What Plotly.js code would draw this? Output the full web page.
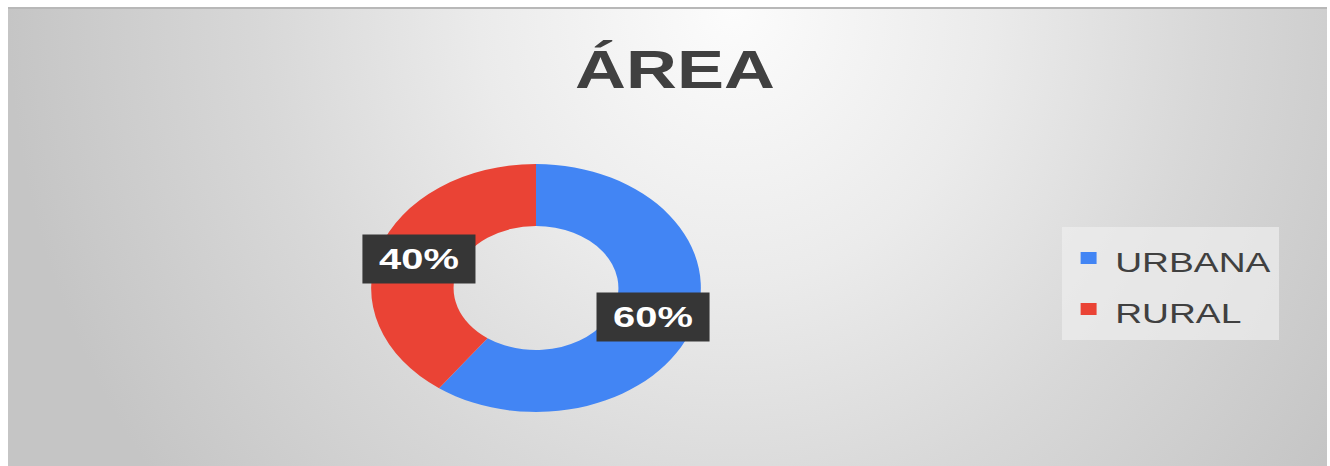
<!DOCTYPE html>
<html>
<head>
<meta charset="utf-8">
<script src="https://cdn.plot.ly/plotly-3.0.1.min.js"></script>
<style>
  html, body { margin: 0; padding: 0; width: 1330px; height: 466px; overflow: hidden; background: #ffffff; }
  #frame {
    position: absolute; left: 8px; top: 7px; width: 1319px; height: 459px;
    border-top: 2px solid #b8b8b8;
    box-sizing: border-box;
    background: radial-gradient(ellipse 55% 170% at 55% 0%, #fcfcfc 0%, #ebebeb 35%, #d8d8d8 65%, #c5c5c5 100%);
  }
  #chart {
    position: absolute; left: 0; top: 0; width: 1000px; height: 466px;
    transform: scaleX(1.33); transform-origin: 0 0;
  }
</style>
</head>
<body>
<div id="frame"></div>
<div id="chart"></div>
<script>
const categories = ["URBANA", "RURAL"];
const values = [60, 40];
const percentLabels = ["60%", "40%"];
const sliceColors = ["#4285f4", "#ea4335"];
const chartTitle = "ÁREA";

const W = 1000, H = 466;
const dom = { x: [0.279, 0.527], y: [0.116, 0.648] };
const hole = 0.5;
const fontFam = '"Liberation Sans", Arial, sans-serif';

const trace = {
  type: "pie",
  labels: categories.map(c => '<span style="font-size:28px">' + c + '</span>'),
  values: values,
  sort: false,
  direction: "clockwise",
  rotation: 0,
  hole: hole,
  textinfo: "none",
  hoverinfo: "none",
  marker: { colors: sliceColors, line: { width: 0 } },
  domain: dom
};

// label positions derived from the data (mid-angle of each slice, mid-ring radius)
const total = values.reduce((a, b) => a + b, 0);
const cx = (dom.x[0] + dom.x[1]) / 2;
const cy = (dom.y[0] + dom.y[1]) / 2;
const Rpx = Math.min((dom.x[1] - dom.x[0]) * W, (dom.y[1] - dom.y[0]) * H) / 2;
const rMid = Rpx * (1 + hole) / 2;
let cum = 0;
const annotations = values.map((v, i) => {
  const mid = (cum + v / 2) / total;
  cum += v;
  const th = 2 * Math.PI * mid;
  return {
    xref: "paper", yref: "paper",
    x: cx + rMid * Math.sin(th) / W,
    y: cy + rMid * Math.cos(th) / H,
    text: "<b>" + percentLabels[i] + "</b>",
    showarrow: false,
    font: { family: fontFam, size: 30, color: "#ffffff" },
    bgcolor: "#363636",
    width: 80, height: 44, borderpad: 2,
    xanchor: "center", yanchor: "middle"
  };
});

const layout = {
  width: W, height: H,
  margin: { l: 0, r: 0, t: 0, b: 0 },
  paper_bgcolor: "rgba(0,0,0,0)",
  plot_bgcolor: "rgba(0,0,0,0)",
  title: {
    text: "<b>" + chartTitle + "</b>",
    font: { family: fontFam, size: 53, color: "#404040" },
    x: 0.5075, xanchor: "center", xref: "paper",
    y: 0.852, yanchor: "middle", yref: "paper"
  },
  showlegend: true,
  legend: {
    x: 0.7985, y: 0.512, xanchor: "left", yanchor: "top",
    bgcolor: "rgba(238,238,238,0.7)",
    font: { family: fontFam, size: 37, color: "#404040" },
    traceorder: "normal"
  },
  annotations: annotations
};

Plotly.newPlot("chart", [trace], layout, { staticPlot: true, displayModeBar: false });
</script>
</body>
</html>
